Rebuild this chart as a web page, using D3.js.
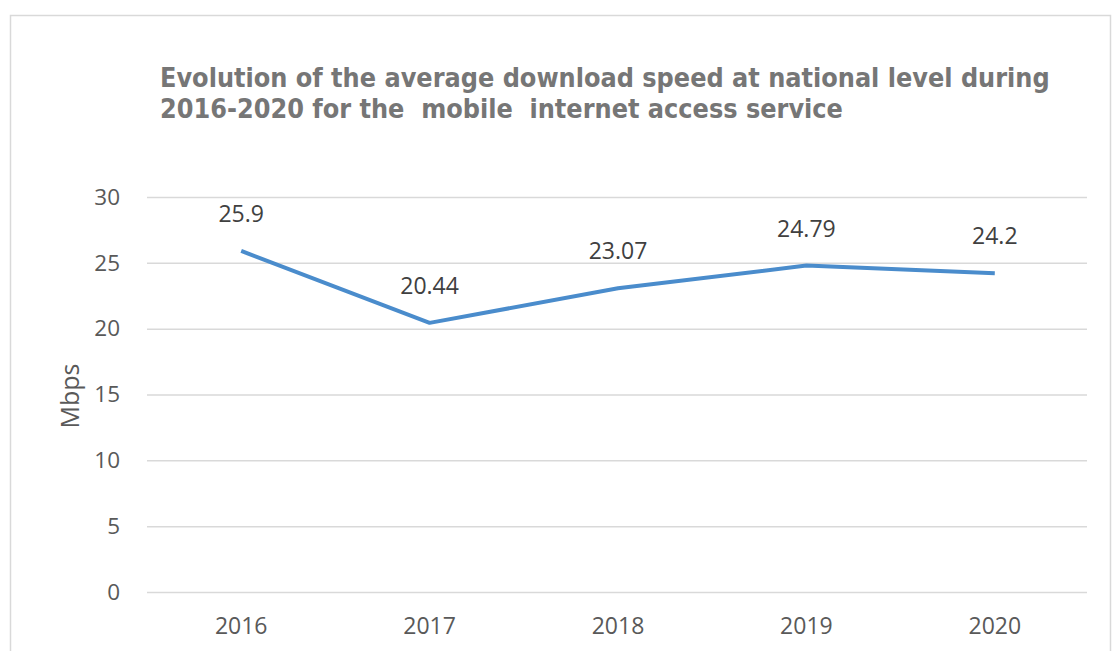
<!DOCTYPE html>
<html>
<head>
<meta charset="utf-8">
<script src="https://cdn.jsdelivr.net/npm/d3@7"></script>
<style>
  body { margin: 0; background: #fff; }
  svg { display: block; }
</style>
</head>
<body>
<svg id="chart" width="1113" height="651"></svg>
<script>
const years = ["2016", "2017", "2018", "2019", "2020"];
const speeds = [25.9, 20.44, 23.07, 24.79, 24.2];
const speedLabels = ["25.9", "20.44", "23.07", "24.79", "24.2"];
const yTicks = [0, 5, 10, 15, 20, 25, 30];
const titleLines = [
  "Evolution of the average download speed at national level during",
  "2016-2020 for the  mobile  internet access service"
];
const yTitle = "Mbps";

const svg = d3.select("#chart");

// outer chart border
svg.append("rect")
  .attr("x", 10.5).attr("y", 15.5)
  .attr("width", 1100).attr("height", 700)
  .attr("fill", "#fff").attr("stroke", "#d9d9d9").attr("stroke-width", 1.5);

const x = d3.scaleBand().domain(years).range([147, 1089]);
const y = d3.scaleLinear().domain([0, 30]).range([592, 197]);

const tickFont = "'Open Sans', 'Liberation Sans', sans-serif";
const fsTick = "22.5px";

// y axis with gridlines
const yAxis = svg.append("g")
  .attr("transform", "translate(147,0)")
  .call(d3.axisLeft(y).tickValues(yTicks).tickSize(-940).tickPadding(27));
yAxis.select(".domain").remove();
yAxis.selectAll(".tick line").attr("stroke", "#d9d9d9").attr("stroke-width", 1.5);
yAxis.selectAll(".tick text")
  .attr("fill", "#595959").style("font-family", tickFont).style("font-size", fsTick);

// x axis
const xAxis = svg.append("g")
  .attr("transform", "translate(0,592)")
  .call(d3.axisBottom(x).tickSize(0).tickPadding(26));
xAxis.select(".domain").remove();
xAxis.selectAll(".tick text")
  .attr("fill", "#595959").style("font-family", tickFont).style("font-size", "23px");

// line
const line = d3.line()
  .x((d, i) => x(years[i]) + x.bandwidth() / 2)
  .y(d => y(d));
svg.append("path")
  .datum(speeds)
  .attr("d", line)
  .attr("fill", "none")
  .attr("stroke", "#4a8ccc")
  .attr("stroke-width", 4)
  .attr("stroke-linejoin", "round")
  .attr("stroke-linecap", "butt");

// data labels
svg.append("g").selectAll("text")
  .data(speeds)
  .join("text")
  .attr("x", (d, i) => x(years[i]) + x.bandwidth() / 2)
  .attr("y", d => y(d) - 29)
  .attr("text-anchor", "middle")
  .attr("fill", "#404040")
  .style("font-family", tickFont)
  .style("font-size", "23px")
  .text((d, i) => speedLabels[i]);

// y axis title
svg.append("text")
  .attr("transform", "translate(79,396) rotate(-90)")
  .attr("text-anchor", "middle")
  .attr("fill", "#595959")
  .style("font-family", tickFont)
  .style("font-size", "25px")
  .text(yTitle);

// title
const title = svg.append("g");
const t1 = title.append("text")
  .attr("x", 160).attr("y", 87)
  .attr("fill", "#767676")
  .style("font-family", "'DejaVu Sans Condensed', 'DejaVu Sans', sans-serif")
  .style("font-weight", "bold")
  .style("font-size", "24px")
  .text(titleLines[0]);
const w = t1.node().getComputedTextLength();
const fs = 24 * 890 / w;
t1.style("font-size", fs + "px");
title.append("text")
  .attr("x", 160).attr("y", 118)
  .attr("fill", "#767676")
  .style("font-family", "'DejaVu Sans Condensed', 'DejaVu Sans', sans-serif")
  .style("font-weight", "bold")
  .style("font-size", fs + "px")
  .style("white-space", "pre")
  .text(titleLines[1]);
</script>
</body>
</html>
